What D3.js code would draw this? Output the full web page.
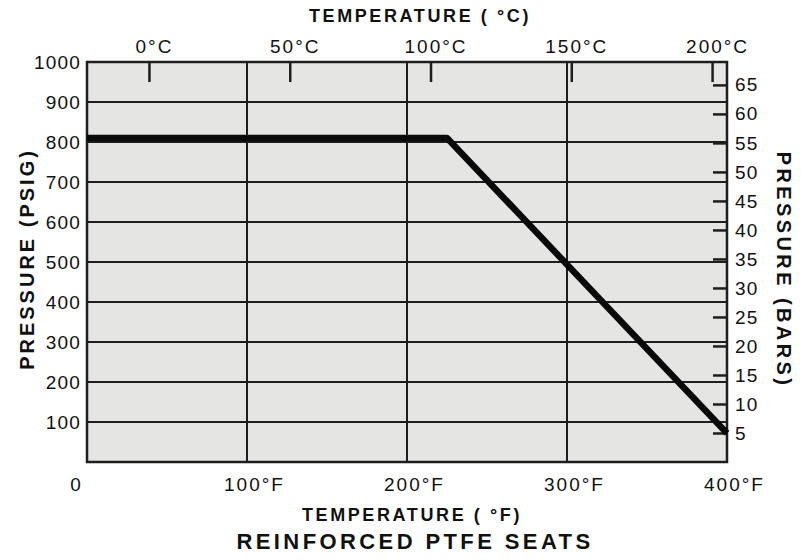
<!DOCTYPE html>
<html>
<head>
<meta charset="utf-8">
<script src="https://cdn.jsdelivr.net/npm/d3@7/dist/d3.min.js"></script>
<style>
	body { margin: 0; background: #fff; }
	svg { display: block; }
	text { font-family: "Liberation Sans", Arial, sans-serif; fill: #111; }
	.tick text { font-size: 19px; letter-spacing: 1.2px; fill: #111; }
	.title { font-weight: bold; }
</style>
</head>
<body>
<div id="chart"></div>
<script>
(function() {
	"use strict";
	// temperature (F) / pressure (psig) rating curve
	var tempF = [0, 225, 400];
	var pressurePsig = [810, 810, 72];

	var fTicks = [0, 100, 200, 300, 400];
	var cTicks = [0, 50, 100, 150, 200];
	var psiTicks = [100, 200, 300, 400, 500, 600, 700, 800, 900, 1000];
	var barTicks = [5, 10, 15, 20, 25, 30, 35, 40, 45, 50, 55, 60, 65];
	var psiPerBar = 14.504;

	var W = 801, H = 560;
	var box = { left : 87, right : 727, top : 62, bottom : 462 };

	var svg = d3.select("#chart").append("svg")
			.attr("width", W).attr("height", H);

	var x = d3.scaleLinear().domain([0, 400]).range([box.left, box.right]);
	var y = d3.scaleLinear().domain([0, 1000]).range([box.bottom, box.top]);
	var yBar = d3.scaleLinear().domain([0, 1000 / psiPerBar]).range([box.bottom, box.top]);
	// the printed celsius ticks sit a little off the true conversion
	var xC = d3.scaleLinear().domain([-22, 205.3]).range([box.left, box.right]);

	// plot background
	svg.append("rect")
			.attr("x", box.left).attr("y", box.top)
			.attr("width", box.right - box.left).attr("height", box.bottom - box.top)
			.attr("fill", "#e5e5e3");

	// grid
	svg.append("g").selectAll("line").data(psiTicks.slice(0, -1)).enter().append("line")
			.attr("x1", box.left).attr("x2", box.right)
			.attr("y1", function(d) { return y(d); })
			.attr("y2", function(d) { return y(d); })
			.attr("stroke", "#1e1e1e").attr("stroke-width", 2);
	svg.append("g").selectAll("line").data(fTicks.slice(1, -1)).enter().append("line")
			.attr("y1", box.top).attr("y2", box.bottom)
			.attr("x1", function(d) { return x(d); })
			.attr("x2", function(d) { return x(d); })
			.attr("stroke", "#1e1e1e").attr("stroke-width", 2);

	// left axis (psig)
	var axLeft = svg.append("g").attr("transform", "translate(" + box.left + ",0)")
			.call(d3.axisLeft(y).tickValues(psiTicks).tickSize(0).tickPadding(6)
					.tickFormat(d3.format("d")));
	axLeft.select(".domain").remove();

	// right axis (bars), ticks point inwards
	var axRight = svg.append("g").attr("transform", "translate(" + box.right + ",0)")
			.call(d3.axisRight(yBar).tickValues(barTicks).tickSize(-14).tickPadding(8));
	axRight.select(".domain").remove();
	axRight.selectAll(".tick line").attr("stroke", "#1e1e1e").attr("stroke-width", 2.5);

	// top axis (celsius), ticks point inwards
	var axTop = svg.append("g").attr("transform", "translate(0," + box.top + ")")
			.call(d3.axisTop(xC).tickValues(cTicks).tickSize(-20).tickPadding(9)
					.tickFormat(function(d) { return d + "°C"; }));
	axTop.select(".domain").remove();
	axTop.selectAll(".tick line").attr("stroke", "#1e1e1e").attr("stroke-width", 2.5);
	axTop.selectAll(".tick text").attr("dx", 5).style("letter-spacing", "2px");

	// bottom axis (fahrenheit)
	var axBottom = svg.append("g").attr("transform", "translate(0," + box.bottom + ")")
			.call(d3.axisBottom(x).tickValues(fTicks).tickSize(0).tickPadding(16)
					.tickFormat(function(d) { return d === 0 ? "0" : d + "°F"; }));
	axBottom.select(".domain").remove();
	axBottom.selectAll(".tick text").style("letter-spacing", "2px")
			.attr("dx", function(d) { return d === 0 ? -11 : 7; });

	// border
	svg.append("rect")
			.attr("x", box.left).attr("y", box.top)
			.attr("width", box.right - box.left).attr("height", box.bottom - box.top)
			.attr("fill", "none").attr("stroke", "#1e1e1e").attr("stroke-width", 2.5);

	// rating curve
	var pts = tempF.map(function(t, i) { return [t, pressurePsig[i]]; });
	svg.append("path").datum(pts)
			.attr("d", d3.line().x(function(d) { return x(d[0]); }).y(function(d) { return y(d[1]); }))
			.attr("fill", "none").attr("stroke", "#0a0a0a")
			.attr("stroke-width", 6.5).attr("stroke-linejoin", "round");

	// titles
	svg.append("text").attr("class", "title")
			.attr("x", 420).attr("y", 22).attr("text-anchor", "middle")
			.style("font-size", "18px").style("letter-spacing", "2.6px")
			.text("TEMPERATURE ( °C)");
	svg.append("text").attr("class", "title")
			.attr("x", 412).attr("y", 521).attr("text-anchor", "middle")
			.style("font-size", "18px").style("letter-spacing", "2.6px")
			.text("TEMPERATURE ( °F)");
	svg.append("text").attr("class", "title")
			.attr("x", 415).attr("y", 549).attr("text-anchor", "middle")
			.style("font-size", "22px").style("letter-spacing", "3.4px")
			.text("REINFORCED PTFE SEATS");
	svg.append("text").attr("class", "title")
			.attr("transform", "translate(34,259) rotate(-90)").attr("text-anchor", "middle")
			.style("font-size", "20px").style("letter-spacing", "3px")
			.text("PRESSURE (PSIG)");
	svg.append("text").attr("class", "title")
			.attr("transform", "translate(777,270) rotate(90)").attr("text-anchor", "middle")
			.style("font-size", "20px").style("letter-spacing", "3.4px")
			.text("PRESSURE (BARS)");
})();
</script>
</body>
</html>
